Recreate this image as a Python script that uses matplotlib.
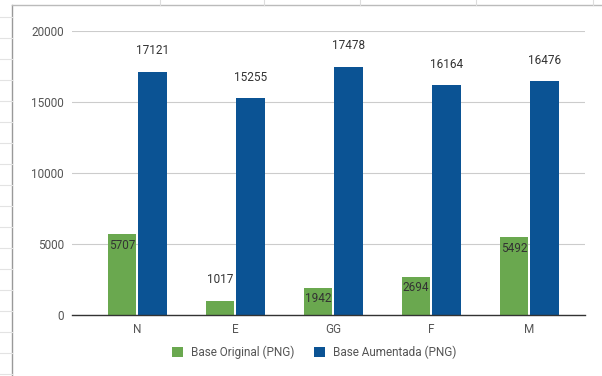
import numpy as np
import matplotlib
matplotlib.use("Agg")
from matplotlib import pyplot as plt
from matplotlib.lines import Line2D

categorias = ["N", "E", "GG", "F", "M"]
base_original = [5707, 1017, 1942, 2694, 5492]
base_aumentada = [17121, 15255, 17478, 16164, 16476]

verde = "#6aa84f"
azul = "#0b5394"

plt.rcParams["font.family"] = ["Roboto", "DejaVu Sans"]

fig = plt.figure(figsize=(6.02, 3.76), dpi=100)
fig.patch.set_facecolor("white")
ax = fig.add_axes([0.12, 0.162, 0.852, 0.7556])

x = np.arange(len(categorias))
w = 0.29
off = 0.155
b1 = ax.bar(x - off, base_original, w, color=verde, label="Base Original (PNG)")
b2 = ax.bar(x + off, base_aumentada, w, color=azul, label="Base Aumentada (PNG)")

ax.set_xlim(-0.663, 4.57)
ax.set_ylim(0, 20000)
ax.set_yticks([0, 5000, 10000, 15000, 20000])
ax.set_xticks(x)
ax.set_xticklabels(categorias)

ax.grid(axis="y", color="#cccccc", linewidth=0.8)
ax.set_axisbelow(True)
for s in ["top", "right", "left"]:
    ax.spines[s].set_visible(False)
ax.spines["bottom"].set_color("#333333")
ax.spines["bottom"].set_linewidth(1.0)
ax.tick_params(axis="both", length=0, labelsize=8.5, labelcolor="#555555")
ax.tick_params(axis="y", pad=6)
ax.tick_params(axis="x", pad=6)

# rótulos: dentro da barra quando cabe, senão acima
for barras in (b1, b2):
    for r in barras:
        v = r.get_height()
        cx = r.get_x() + r.get_width() / 2
        if barras is b1 and v > 1500:
            ax.annotate(str(v), (cx, v), xytext=(0, -11), textcoords="offset pixels",
                        ha="center", va="center", fontsize=8.5, color="#333333")
        else:
            ax.annotate(str(v), (cx, v), xytext=(0, 21), textcoords="offset pixels",
                        ha="center", va="center", fontsize=8.5, color="#333333",
                        annotation_clip=False)

leg = fig.legend(handles=[b1, b2], loc="center", bbox_to_anchor=(0.522, 0.063), ncol=2,
                 frameon=False, fontsize=8.5, handlelength=0.9, handleheight=0.9,
                 columnspacing=1.7, handletextpad=0.7)
for t in leg.get_texts():
    t.set_color("#555555")

# moldura da planilha
fig.add_artist(Line2D([12 / 602, 12 / 602], [0, 1 - 5 / 376], color="#999999", lw=1.0))
fig.add_artist(Line2D([12 / 602, 1], [1 - 5 / 376, 1 - 5 / 376], color="#bbbbbb", lw=1.0))
for px in [160, 264, 360, 476, 593]:
    fig.add_artist(Line2D([px / 602, px / 602], [1 - 5 / 376, 1], color="#dddddd", lw=0.8))
for py in range(17, 376, 21):
    fig.add_artist(Line2D([0, 12 / 602], [1 - py / 376, 1 - py / 376], color="#e3e3e3", lw=0.8))

fig.savefig("out.png", dpi=100, facecolor="white")
